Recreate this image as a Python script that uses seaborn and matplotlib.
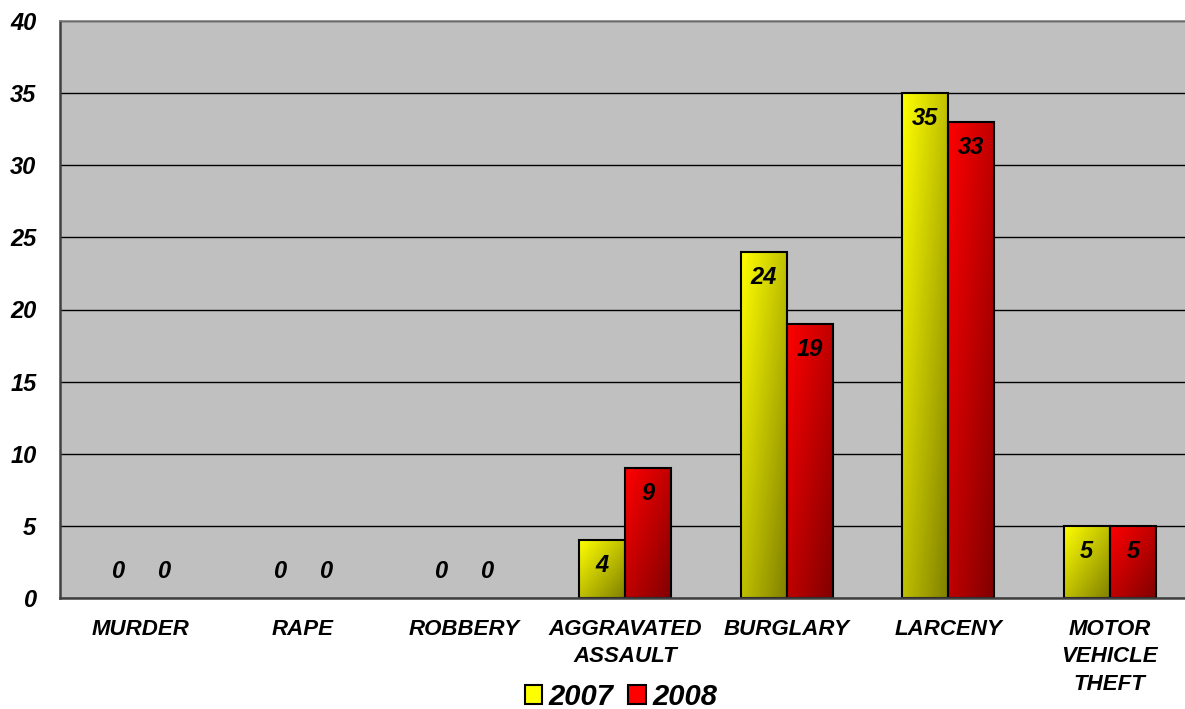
import numpy as np
import pandas as pd
import matplotlib
matplotlib.use('Agg')
import matplotlib.pyplot as plt
import seaborn as sns
from matplotlib.patches import Patch

# chart data
categories = ['MURDER', 'RAPE', 'ROBBERY', 'AGGRAVATED\nASSAULT', 'BURGLARY', 'LARCENY', 'MOTOR\nVEHICLE\nTHEFT']
years = ['2007', '2008']
counts_2007 = [0, 0, 0, 4, 24, 35, 5]
counts_2008 = [0, 0, 0, 9, 19, 33, 5]
y_ticks = [0, 5, 10, 15, 20, 25, 30, 35, 40]

bright = {'2007': (1.0, 1.0, 0.0), '2008': (1.0, 0.0, 0.0)}

df = pd.DataFrame({
    'crime': categories * 2,
    'year': [years[0]] * len(categories) + [years[1]] * len(categories),
    'count': counts_2007 + counts_2008,
})

sns.set_style('white')
plt.rcParams['font.family'] = ['Liberation Sans', 'DejaVu Sans']
plt.rcParams['font.weight'] = 'bold'
plt.rcParams['font.style'] = 'italic'
plt.rcParams['text.color'] = 'black'

fig = plt.figure(figsize=(11.85, 7.09), dpi=100)
ax = fig.add_axes([60 / 1185, 1 - 598 / 709, 1130.5 / 1185, 577 / 709])
ax.set_facecolor('#c0c0c0')

sns.barplot(data=df, x='crime', y='count', hue='year', order=categories, hue_order=years,
            palette=[bright[y] for y in years], saturation=1, width=0.57, gap=0,
            edgecolor='black', linewidth=1.5, legend=False, ax=ax)

# diagonal gradient fill for each bar (bright top-left -> dark bottom-right)
n = 64
gx, gy = np.meshgrid(np.linspace(0, 1, n), np.linspace(0, 1, n))
shade = 1 - 0.5 * (gx + gy) / 2  # row 0 = top when origin='upper'
for patch in ax.patches:
    h = patch.get_height()
    if h <= 0:
        patch.set_linewidth(0)
        continue
    fc = patch.get_facecolor()[:3]
    img = np.dstack([shade * c for c in fc])
    x0 = patch.get_x()
    w = patch.get_width()
    im = ax.imshow(img, extent=(x0, x0 + w, 0, h), origin='upper', aspect='auto',
                   zorder=patch.get_zorder() - 0.01, interpolation='bilinear')
    im.set_clip_path(patch)
    patch.set_facecolor('none')

# value labels
offsets = [-0.143, 0.143]
for j, vals in enumerate([counts_2007, counts_2008]):
    for i, v in enumerate(vals):
        ypos = v - 1.75 if v > 0 else 1.85
        ax.text(i + offsets[j], ypos, str(v), ha='center', va='center', fontsize=17,
                fontweight='bold', fontstyle='italic', color='black', zorder=5)

ax.set_xlim(-0.5, 6.5)
ax.set_ylim(0, 40)
ax.set_yticks(y_ticks)
ax.set_yticklabels([str(t) for t in y_ticks], fontsize=17, fontweight='bold', fontstyle='italic')
ax.set_xticks(range(len(categories)))
ax.set_xticklabels(categories, fontsize=16, fontweight='bold', fontstyle='italic', linespacing=1.4)
ax.set_xticks(np.arange(-0.5, 7, 1), minor=True)
ax.tick_params(axis='x', which='major', length=0, pad=15, labelcolor='black')
ax.tick_params(axis='x', which='minor', length=6, width=1, color='#404040', direction='out')
ax.tick_params(axis='y', length=8, width=1, color='#404040', direction='out', pad=9,
               labelcolor='black')
ax.set_xlabel('')
ax.set_ylabel('')

ax.yaxis.grid(True, color='black', linewidth=1)
ax.set_axisbelow(True)

for side in ['left', 'bottom']:
    ax.spines[side].set_color('#404040')
    ax.spines[side].set_linewidth(1.8)
ax.spines['top'].set_color('#808080')
ax.spines['top'].set_linewidth(1.2)
ax.spines['right'].set_visible(False)

handles = [Patch(facecolor=bright[y], edgecolor='black', linewidth=1.5, label=y) for y in years]
fig.legend(handles=handles, loc='center', bbox_to_anchor=(621 / 1185, 1 - 697 / 709), ncol=2,
           frameon=False, prop={'size': 21, 'weight': 'bold', 'style': 'italic'},
           handlelength=0.6, handleheight=0.6, handletextpad=0.22, columnspacing=0.5)

fig.savefig('out.png', dpi=100)
